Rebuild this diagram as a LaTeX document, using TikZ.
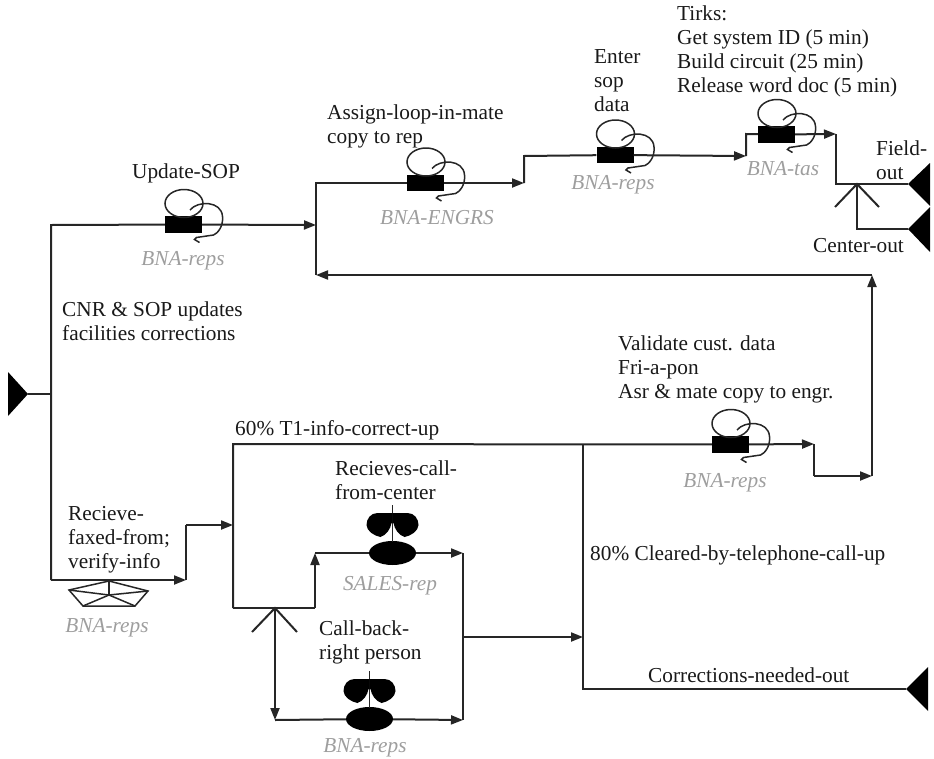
\documentclass[tikz,border=0pt]{standalone}
\usepackage{fontspec}
\setmainfont{Liberation Serif}
\usetikzlibrary{arrows.meta,shapes.geometric}

\tikzset{
  flow/.style={line width=2pt,draw=black!85,line join=miter},
  flowto/.style={flow,-{Triangle[length=12pt,width=9pt]}},
  label/.style={anchor=west,align=left,inner sep=0pt,text=black!90,font=\fontsize{21.3}{24}\selectfont},
  owner/.style={anchor=center,inner sep=0pt,text=black!38,font=\fontsize{21.3}{24}\selectfont\itshape},
  stamp/.style={rectangle,fill=black,minimum width=37pt,minimum height=16.5pt,inner sep=0pt},
  phone/.style={ellipse,fill=black,minimum width=47pt,minimum height=24pt,inner sep=0pt},
  thin line/.style={line width=1.5pt,draw=black!85}
}

% task with its loop and tail
\newcommand{\tirkmark}[3]{
  \node[stamp] (#1) at (#2,#3) {};
  \begin{scope}[shift={(#2,#3)}]
    \draw[thin line] (0.5,-21) ellipse [x radius=19,y radius=14];
    \draw[thin line] (6.5,-14.5) .. controls (14,-24) and (38,-24) .. (39,-8)
      .. controls (40,2) and (34,9) .. (30,10.5) -- (13,13) -- (11,15) -- (16,18);
  \end{scope}
}

% person with a phone
\newcommand{\phonemark}[3]{
  \node[phone] (#1) at (#2,#3) {};
  \begin{scope}[shift={(#2,#3)}]
    \draw[thin line] (0,-48) -- (0,-11);
    \foreach \side in {1,-1}{
      \fill[xscale=\side] (0,-40) -- (15,-40) .. controls (22,-40) and (26,-34) .. (26,-28)
        .. controls (26,-22) and (18,-17) .. (12,-16)
        .. controls (6,-18) and (2,-24) .. (1,-30) -- (0,-30) -- cycle;
    }
  \end{scope}
}

\begin{document}
\begin{tikzpicture}[x=1pt,y=-1pt]
  \useasboundingbox (0,0) rectangle (934,758);

  % ends
  \coordinate (startend) at (28,394);
  \coordinate (fieldend) at (908,184);
  \coordinate (centerend) at (908,229);
  \coordinate (fixend) at (906,689);
  \fill (startend) -- (8,372) -- (8,416) -- cycle;
  \fill (fieldend) -- (930,163) -- (930,206) -- cycle;
  \fill (centerend) -- (930,207) -- (930,252) -- cycle;
  \fill (fixend) -- (928,667) -- (928,711) -- cycle;

  % corners
  \coordinate (startjoin) at (51,394);
  \coordinate (upA) at (51,225);
  \coordinate (sopin) at (316,225);
  \coordinate (loopA) at (316,183);
  \coordinate (backin) at (316,275);
  \coordinate (loopB) at (524,183);
  \coordinate (loopC) at (524,156);
  \coordinate (loopD) at (746,156);
  \coordinate (loopE) at (746,134);
  \coordinate (loopF) at (836,134);
  \coordinate (outjoin) at (836,184);
  \coordinate (outfork) at (857,184);
  \coordinate (outdown) at (857,229);
  \coordinate (forkAl) at (835,207);
  \coordinate (forkAr) at (879,207);
  \coordinate (backturn) at (872,275);
  \coordinate (valturn) at (872,476);
  \coordinate (valdown) at (814,476);
  \coordinate (valtop) at (814,444);
  \coordinate (faxA) at (51,580);
  \coordinate (faxB) at (186,580);
  \coordinate (faxC) at (186,525);
  \coordinate (faxD) at (233,525);
  \coordinate (topleft) at (233,444);
  \coordinate (split) at (583,444);
  \coordinate (splitB) at (583,637);
  \coordinate (splitC) at (583,689);
  \coordinate (forkbase) at (233,608);
  \coordinate (fork) at (275,608);
  \coordinate (forkBl) at (252,632);
  \coordinate (forkBr) at (297,632);
  \coordinate (forkup) at (315,608);
  \coordinate (callA) at (315,553);
  \coordinate (callB) at (463,553);
  \coordinate (callC) at (275,720);
  \coordinate (callD) at (463,720);
  \coordinate (callout) at (463,637);

  % tasks
  \tirkmark{sop}{183.5}{224.5}
  \tirkmark{assign}{425.5}{183}
  \tirkmark{enter}{615}{155}
  \tirkmark{tirks}{776.5}{134.5}
  \tirkmark{validate}{730.5}{444.5}
  \phonemark{receives}{392.5}{553}
  \phonemark{callback}{369.5}{719}

  % fax pentagon
  \coordinate (pentc) at (109,595);
  \coordinate (penta) at (109,581);
  \coordinate (pentb) at (148,591);
  \coordinate (pentd) at (135,606);
  \coordinate (pente) at (83,606);
  \coordinate (pentf) at (69,590);
  \draw[thin line] (penta) -- (pentb) -- (pentd) -- (pente) -- (pentf) -- cycle;
  \foreach \p in {a,b,d,e,f}{
    \draw[thin line] (pentc) -- (pent\p);
  }

  % upper flow
  \draw[flow] (startend) -- (startjoin);
  \draw[flow] (faxA) -- (upA) -- (sop);
  \draw[flowto] (sop) -- (sopin);
  \draw[flow] (backin) -- (loopA) -- (assign);
  \draw[flowto] (assign) -- (loopB);
  \draw[flow] (loopB) -- (loopC) -- (enter);
  \draw[flowto] (enter) -- (loopD);
  \draw[flow] (loopD) -- (loopE) -- (tirks);
  \draw[flowto] (tirks) -- (loopF);
  \draw[flow] (loopF) -- (outjoin) -- (fieldend);
  \draw[flow] (outfork) -- (outdown) -- (centerend);
  \draw[flow] (forkAl) -- (outfork) -- (forkAr);
  \draw[flowto] (backturn) -- (backin);

  % lower flow
  \draw[flowto] (faxA) -- (faxB);
  \draw[flow] (faxB) -- (faxC);
  \draw[flowto] (faxC) -- (faxD);
  \draw[flow] (forkbase) -- (topleft) -- (validate);
  \draw[flowto] (validate) -- (valtop);
  \draw[flow] (valtop) -- (valdown);
  \draw[flowto] (valdown) -- (valturn);
  \draw[flowto] (valturn) -- (backturn);
  \draw[flow] (forkbase) -- (forkup);
  \draw[flowto] (forkup) -- (callA);
  \draw[flow] (callA) -- (receives);
  \draw[flowto] (receives) -- (callB);
  \draw[flow] (callB) -- (callD);
  \draw[flow] (forkBl) -- (fork) -- (forkBr);
  \draw[flowto] (fork) -- (callC);
  \draw[flow] (callC) -- (callback);
  \draw[flowto] (callback) -- (callD);
  \draw[flowto] (callout) -- (splitB);
  \draw[flow] (split) -- (splitC) -- (fixend);

  % labels
  \node[label] (sopname) at (132,173) {Update-SOP};
  \node[owner] (sopowner) at (183,261) {BNA-reps};
  \node[label] (cnrname) at (62,321) {CNR \& SOP updates\\facilities corrections};
  \node[label] (assignname) at (327,126.5) {Assign-loop-in-mate\\copy to rep};
  \node[owner] (assignowner) at (437,218) {BNA-ENGRS};
  \node[label] (entername) at (594,81) {Enter\\sop\\data};
  \node[owner] (enterowner) at (613,185) {BNA-reps};
  \node[label] (tirksname) at (677,51.5) {Tirks:\\Get system ID (5 min)\\Build circuit (25 min)\\Release word doc (5 min)};
  \node[owner] (tirksowner) at (783,169) {BNA-tas};
  \node[label] (fieldname) at (876,160) {Field-\\out};
  \node[label] (centername) at (813,246) {Center-out};
  \node[label] (validatename) at (618,369) {Validate cust. data\\Fri-a-pon\\Asr \& mate copy to engr.};
  \node[owner] (validateowner) at (725,483) {BNA-reps};
  \node[label] (infoname) at (235,430) {60\% T1-info-correct-up};
  \node[label] (receivesname) at (335,480.5) {Recieves-call-\\from-center};
  \node[owner] (receivesowner) at (390,586) {SALES-rep};
  \node[label] (faxname) at (68,539.5) {Recieve-\\faxed-from;\\verify-info};
  \node[owner] (faxowner) at (107,628) {BNA-reps};
  \node[label] (callname) at (319,642.5) {Call-back-\\right person};
  \node[owner] (callowner) at (365,748) {BNA-reps};
  \node[label] (clearname) at (590,555) {80\% Cleared-by-telephone-call-up};
  \node[label] (fixname) at (648,675) {Corrections-needed-out};
\end{tikzpicture}
\end{document}
